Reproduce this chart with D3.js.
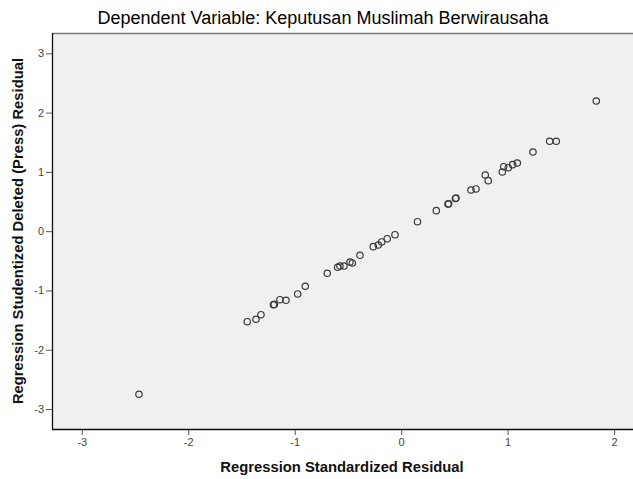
<!DOCTYPE html>
<html>
<head>
<meta charset="utf-8">
<script src="https://cdn.jsdelivr.net/npm/d3@7"></script>
<style>
  html, body { margin: 0; padding: 0; background: #fff; }
  svg { display: block; }
</style>
</head>
<body>
<svg id="chart" width="633" height="479"></svg>
<script>
// Regression Standardized Residual (x)
const stdResidual = [
  -2.463, -1.446, -1.364, -1.317, -1.200, -1.192, -1.139, -1.082, -0.972, -0.901,
  -0.694, -0.597, -0.575, -0.537, -0.481, -0.459, -0.387, -0.262, -0.215, -0.183,
  -0.131, -0.058, 0.153, 0.330, 0.440, 0.446, 0.510, 0.515, 0.656, 0.703,
  0.790, 0.818, 0.950, 0.963, 1.006, 1.047, 1.091, 1.238, 1.395, 1.457, 1.833
];
// Regression Studentized Deleted (Press) Residual (y)
const pressResidual = [
  -2.751, -1.527, -1.486, -1.409, -1.242, -1.235, -1.156, -1.166, -1.059, -0.929,
  -0.710, -0.609, -0.587, -0.587, -0.520, -0.536, -0.407, -0.261, -0.233, -0.182,
  -0.127, -0.059, 0.160, 0.346, 0.457, 0.462, 0.552, 0.558, 0.695, 0.712,
  0.948, 0.852, 0.999, 1.088, 1.071, 1.122, 1.150, 1.336, 1.517, 1.517, 2.196
];
const xTicks = [-3, -2, -1, 0, 1, 2];
const yTicks = [-3, -2, -1, 0, 1, 2, 3];

const titleText = "Dependent Variable: Keputusan Muslimah Berwirausaha";
const xTitle = "Regression Standardized Residual";
const yTitle = "Regression Studentized Deleted (Press) Residual";

const svg = d3.select("#chart");
const L = 52, R = 641, T = 33, B = 429;

const x = d3.scaleLinear().domain([-3.280, 2.253]).range([L, R]);
const y = d3.scaleLinear().domain([-3.337, 3.343]).range([B, T]);

// plot background
svg.append("rect")
  .attr("x", L).attr("y", T).attr("width", R - L).attr("height", B - T)
  .attr("fill", "#f0f0f0");

// frame
svg.append("line").attr("x1", L).attr("x2", R).attr("y1", T + 0.5).attr("y2", T + 0.5)
  .attr("stroke", "#7a7a7a").attr("stroke-width", 1.5);
svg.append("line").attr("x1", L + 0.5).attr("x2", L + 0.5).attr("y1", T).attr("y2", B)
  .attr("stroke", "#111").attr("stroke-width", 1.3);
svg.append("line").attr("x1", L).attr("x2", R).attr("y1", B + 0.5).attr("y2", B + 0.5)
  .attr("stroke", "#111").attr("stroke-width", 1.3);

// axes
const fontFam = "'Liberation Sans', Arial, sans-serif";
const fmt = d => String(d);
const xAxis = svg.append("g").attr("transform", `translate(0,${B + 1})`)
  .call(d3.axisBottom(x).tickValues(xTicks).tickSize(5).tickSizeOuter(0).tickFormat(fmt));
const yAxis = svg.append("g").attr("transform", `translate(${L},0)`)
  .call(d3.axisLeft(y).tickValues(yTicks).tickSize(6).tickSizeOuter(0).tickFormat(fmt));
[xAxis, yAxis].forEach(g => {
  g.select(".domain").remove();
  g.selectAll(".tick line").attr("stroke", "#555").attr("stroke-width", 1);
  g.selectAll(".tick text").attr("fill", "#444").attr("font-family", fontFam).attr("font-size", 11);
});
xAxis.selectAll(".tick text").attr("dy", "0.9em").attr("y", 6);
yAxis.selectAll(".tick text").attr("x", -8);

// points
svg.append("g").selectAll("circle")
  .data(stdResidual.map((v, i) => [v, pressResidual[i]]))
  .join("circle")
  .attr("cx", d => x(d[0]))
  .attr("cy", d => y(d[1]))
  .attr("r", 3.2)
  .attr("fill", "none")
  .attr("stroke", "#3a3a3a")
  .attr("stroke-width", 1.2);

// titles
svg.append("text").attr("x", 323).attr("y", 24).attr("text-anchor", "middle")
  .attr("font-family", fontFam).attr("font-size", 18).attr("fill", "#000")
  .text(titleText);
svg.append("text").attr("x", 342).attr("y", 472).attr("text-anchor", "middle")
  .attr("font-family", fontFam).attr("font-size", 14.8).attr("font-weight", "bold").attr("fill", "#111")
  .text(xTitle);
svg.append("text").attr("transform", `translate(23,${(T + B) / 2}) rotate(-90)`)
  .attr("text-anchor", "middle")
  .attr("font-family", fontFam).attr("font-size", 14.8).attr("font-weight", "bold").attr("fill", "#111")
  .text(yTitle);
</script>
</body>
</html>
